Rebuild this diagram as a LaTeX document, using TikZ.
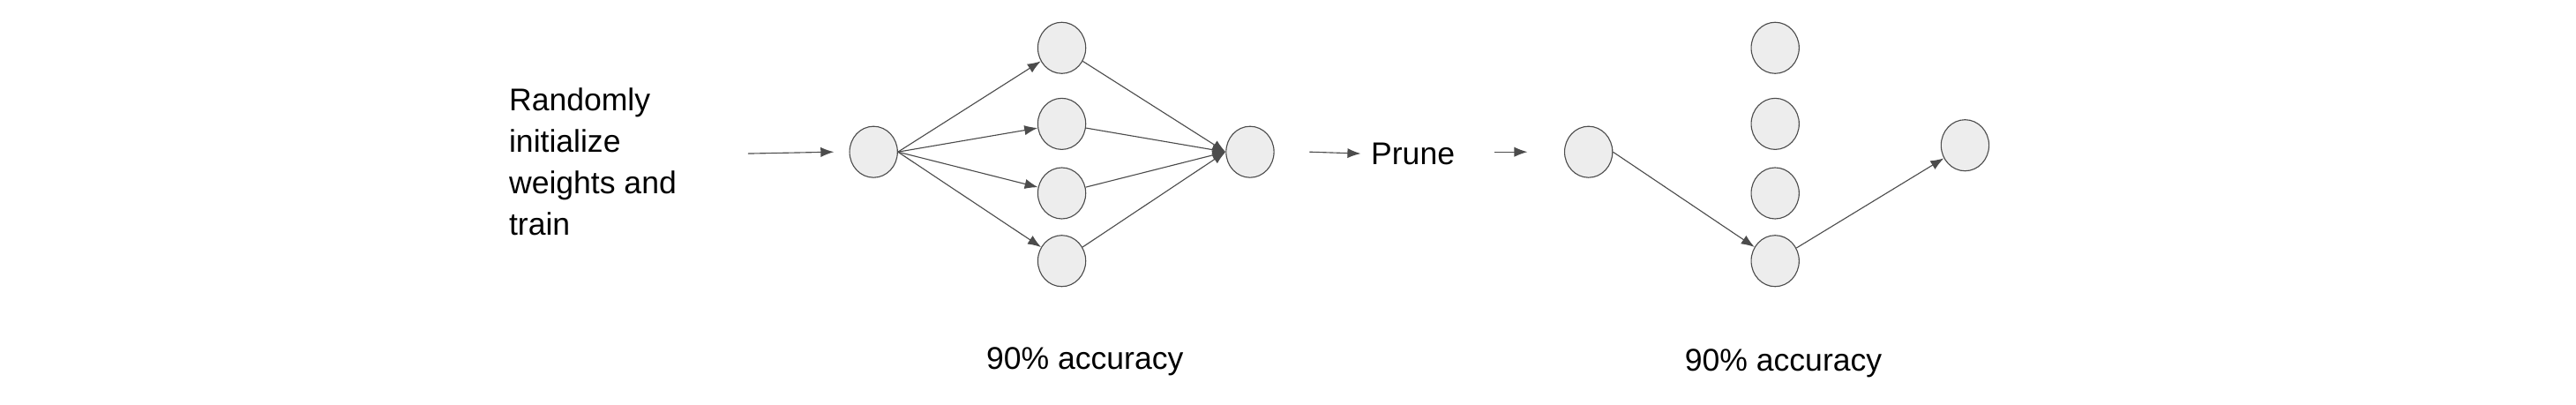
\documentclass[tikz,border=0pt]{standalone}
\usepackage{fontspec}
\setmainfont{Liberation Sans}
\usetikzlibrary{arrows.meta,shapes.geometric}
\tikzset{every picture/.style={line width=0.6pt}}
\tikzset{
  neuron/.style={ellipse, draw=black!70, fill=black!7, minimum width=29pt, minimum height=31pt, inner sep=0pt},
  link/.style={draw=black!70, -{Latex[length=8pt,width=6pt]}},
  caption/.style={font=\fontsize{19}{25}\selectfont, inner sep=0pt}
}

\begin{document}
\begin{tikzpicture}[x=1pt,y=1pt,yscale=-1,xscale=1]
\useasboundingbox (0,0) rectangle (1560,245);

% Text Node
\node (txt) [caption, anchor=west, align=left] at (308,98) {Randomly\\initialize\\weights and\\train};
\coordinate (a0) at (453,93);
\coordinate (a1) at (505,92);
\draw [link] (a0) -- (a1);

% left network
\node (in) [neuron] at (529,92) {};
\foreach \i/\y in {1/29,2/75,3/117,4/158}
  \node (h\i) [neuron] at (643,\y) {};
\node (out) [neuron] at (757,92) {};
\foreach \i in {1,...,4} {
  \draw [link] (in.east) -- (h\i);
  \draw [link] (h\i) -- (out.west);
}

% prune step
\node (prune) [caption, anchor=west] at (830,93) {Prune};
\coordinate (b0) at (793,92);
\coordinate (b1) at (905,92);
\coordinate (b2) at (925,92);
\draw [link] (b0) -- ([xshift=-6pt]prune.west);
\draw [link] (b1) -- (b2);

% pruned network
\node (pin) [neuron] at (962,92) {};
\foreach \i/\y in {1/29,2/75,3/117,4/158}
  \node (p\i) [neuron] at (1075,\y) {};
\node (pout) [neuron] at (1190,88) {};
\draw [link] (pin.east) -- (p4);
\draw [link] (p4) -- (pout);

% Text Node
\node (acc1) [caption] at (657,219) {90\% accuracy};
\node (acc2) [caption] at (1080,220) {90\% accuracy};

\end{tikzpicture}
\end{document}
